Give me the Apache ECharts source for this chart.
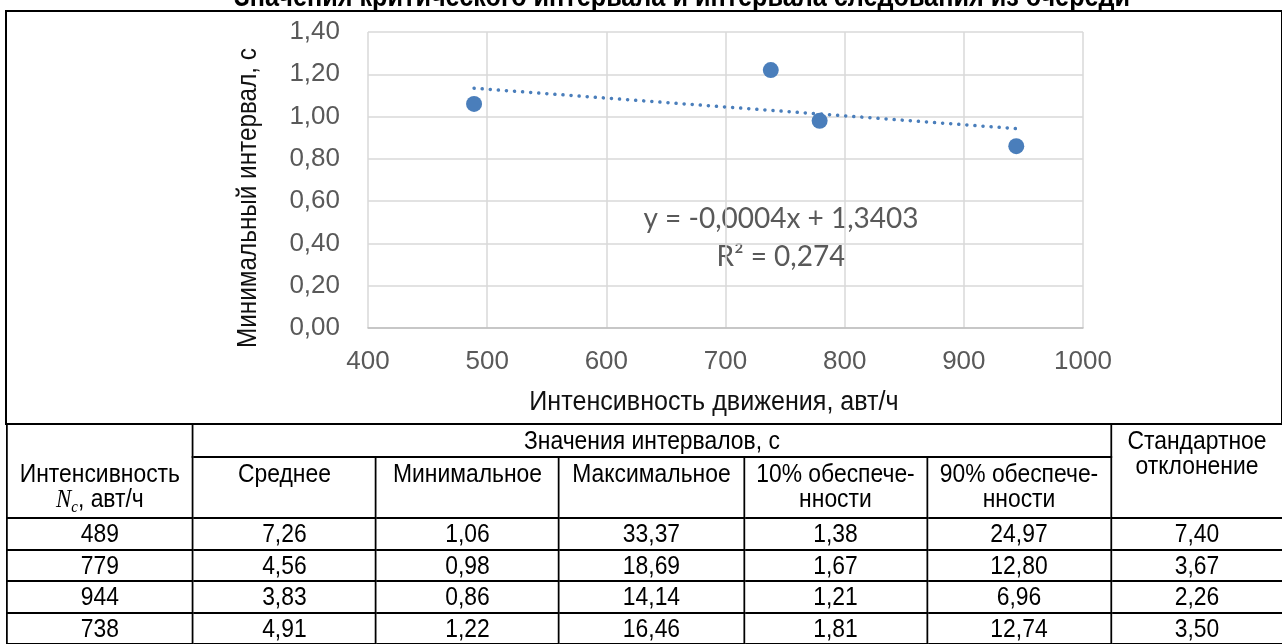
<!DOCTYPE html>
<html>
<head>
<meta charset="utf-8">
<script src="https://cdn.jsdelivr.net/npm/echarts@6/dist/echarts.min.js"></script>
<style>
  body { margin: 0; background: #fff; overflow: hidden; }
  #chart { position: absolute; left: 0; top: 0; width: 1282px; height: 430px; }
  /* узкий шрифт: таблица рисуется шире и сжимается по горизонтали */
  #tbl {
    position: absolute; left: 6px; top: 423px;
    transform-origin: left top;
    border-collapse: collapse; table-layout: fixed;
    font-family: 'Liberation Sans', Arial, sans-serif;
    font-size: 26px; color: #000;
  }
  #tbl td { border: 2px solid #000; text-align: center; padding: 0; line-height: 25px; white-space: nowrap; }
  #tbl td.top { vertical-align: top; padding-top: 3px; }
  #tbl td.first { vertical-align: top; padding-top: 36px; }
  #tbl .nc { font-family: 'Liberation Serif', 'DejaVu Serif', serif; font-style: italic; }
  #tbl .nc sub { font-size: 17px; line-height: 0; vertical-align: -5px; }
</style>
</head>
<body>
<div id="chart"></div>
<table id="tbl">
  <colgroup id="cols"></colgroup>
  <tbody id="tbody"></tbody>
</table>
<script>
// данные из таблицы
const intensity = [489, 779, 944, 738];     // авт/ч
const meanInt   = [7.26, 4.56, 3.83, 4.91];
const minInt    = [1.06, 0.98, 0.86, 1.22];
const maxInt    = [33.37, 18.69, 14.14, 16.46];
const p10       = [1.38, 1.67, 1.21, 1.81];
const p90       = [24.97, 12.80, 6.96, 12.74];
const stdDev    = [7.40, 3.67, 2.26, 3.50];

// линия тренда (концы)
const trendX = [489, 944];
const trendY = [1.134, 0.943];

const colNames = ['Среднее', 'Минимальное', 'Максимальное', '10% обеспече-<br>нности', '90% обеспече-<br>нности'];
const colWidths = [186, 183, 183, 185, 183, 184, 172];

const SQ = 0.88;   // сжатие таблицы по горизонтали (имитация Arial Narrow)
const FONT = "'Liberation Sans', Arial, sans-serif";
const fmt = v => v.toFixed(2).replace('.', ',');

// таблица под графиком
const tbl = document.getElementById('tbl');
tbl.style.transform = 'scaleX(' + SQ + ')';
tbl.style.width = (colWidths.reduce((a, b) => a + b, 0) / SQ).toFixed(1) + 'px';
document.getElementById('cols').innerHTML = colWidths.map(w => '<col style="width:' + (w / SQ).toFixed(1) + 'px">').join('');
let html = '';
html += '<tr style="height:33px"><td rowspan="2" class="first">Интенсивность<br><span class="nc">N<sub>c</sub></span>, авт/ч</td>'
      + '<td colspan="5">Значения интервалов, с</td>'
      + '<td rowspan="2" class="top">Стандартное<br>отклонение</td></tr>';
html += '<tr style="height:61px">' + colNames.map(n => '<td class="top">' + n + '</td>').join('') + '</tr>';
for (let i = 0; i < intensity.length; i++) {
    html += '<tr style="height:31.5px"><td>' + intensity[i] + '</td><td>' + fmt(meanInt[i]) + '</td><td>' + fmt(minInt[i])
          + '</td><td>' + fmt(maxInt[i]) + '</td><td>' + fmt(p10[i]) + '</td><td>' + fmt(p90[i])
          + '</td><td>' + fmt(stdDev[i]) + '</td></tr>';
}
document.getElementById('tbody').innerHTML = html;

// график
var chartDom = document.getElementById('chart');
var myChart = echarts.init(chartDom);
var option = {
    animation: false,
    grid: { left: 368, right: 199, top: 32, bottom: 102 },
    xAxis: {
        type: 'value', min: 400, max: 1000, interval: 100,
        axisLine: { show: true, lineStyle: { color: '#bfbfbf', width: 1.5 } },
        axisTick: { show: false },
        axisLabel: { fontFamily: FONT, fontSize: 26, color: '#595959', margin: 21, formatter: v => String(v) },
        splitLine: { lineStyle: { color: '#d9d9d9', width: 1.5 } }
    },
    yAxis: {
        type: 'value', min: 0, max: 1.4, interval: 0.2,
        axisLine: { show: false },
        axisTick: { show: false },
        axisLabel: { fontFamily: FONT, fontSize: 26, color: '#595959', margin: 28, formatter: fmt },
        splitLine: { lineStyle: { color: '#d9d9d9', width: 1.5 } }
    },
    series: [
        {
            type: 'line',
            data: trendX.map((x, i) => [x, trendY[i]]),
            showSymbol: false,
            lineStyle: { color: '#4a7ebb', width: 3.5, type: [0.1, 8], cap: 'round' },
            z: 2
        },
        {
            type: 'scatter',
            data: intensity.map((x, i) => [x, minInt[i]]),
            symbolSize: 16,
            itemStyle: { color: '#4a7ebb', opacity: 1 },
            z: 3
        }
    ],
    graphic: [
        { type: 'rect', shape: { x: 6, y: 11, width: 1276, height: 413 }, style: { fill: 'none', stroke: '#000', lineWidth: 2 } },
        { type: 'text', x: 682, y: -2, scaleX: 0.87, style: { text: 'Значения критического интервала и интервала следования из очереди', font: 'bold 29px ' + FONT, fill: '#000', textAlign: 'center', textVerticalAlign: 'middle' } },
        { type: 'text', x: 249, y: 198, rotation: Math.PI / 2, scaleX: 0.9, style: { text: 'Минимальный интервал, с', font: '27px ' + FONT, fill: '#111', textAlign: 'center', textVerticalAlign: 'middle' } },
        { type: 'text', x: 714, y: 403, scaleX: 0.93, style: { text: 'Интенсивность движения, авт/ч', font: '27px ' + FONT, fill: '#111', textAlign: 'center', textVerticalAlign: 'middle' } },
        { type: 'text', x: 781, y: 219, style: { text: 'y = -0,0004x + 1,3403', font: '28px Lato', fill: '#595959', textAlign: 'center', textVerticalAlign: 'middle' } },
        { type: 'text', x: 781, y: 257, style: { text: 'R² = 0,274', font: '28px Lato', fill: '#595959', textAlign: 'center', textVerticalAlign: 'middle' } }
    ]
};
myChart.setOption(option);
</script>
</body>
</html>
